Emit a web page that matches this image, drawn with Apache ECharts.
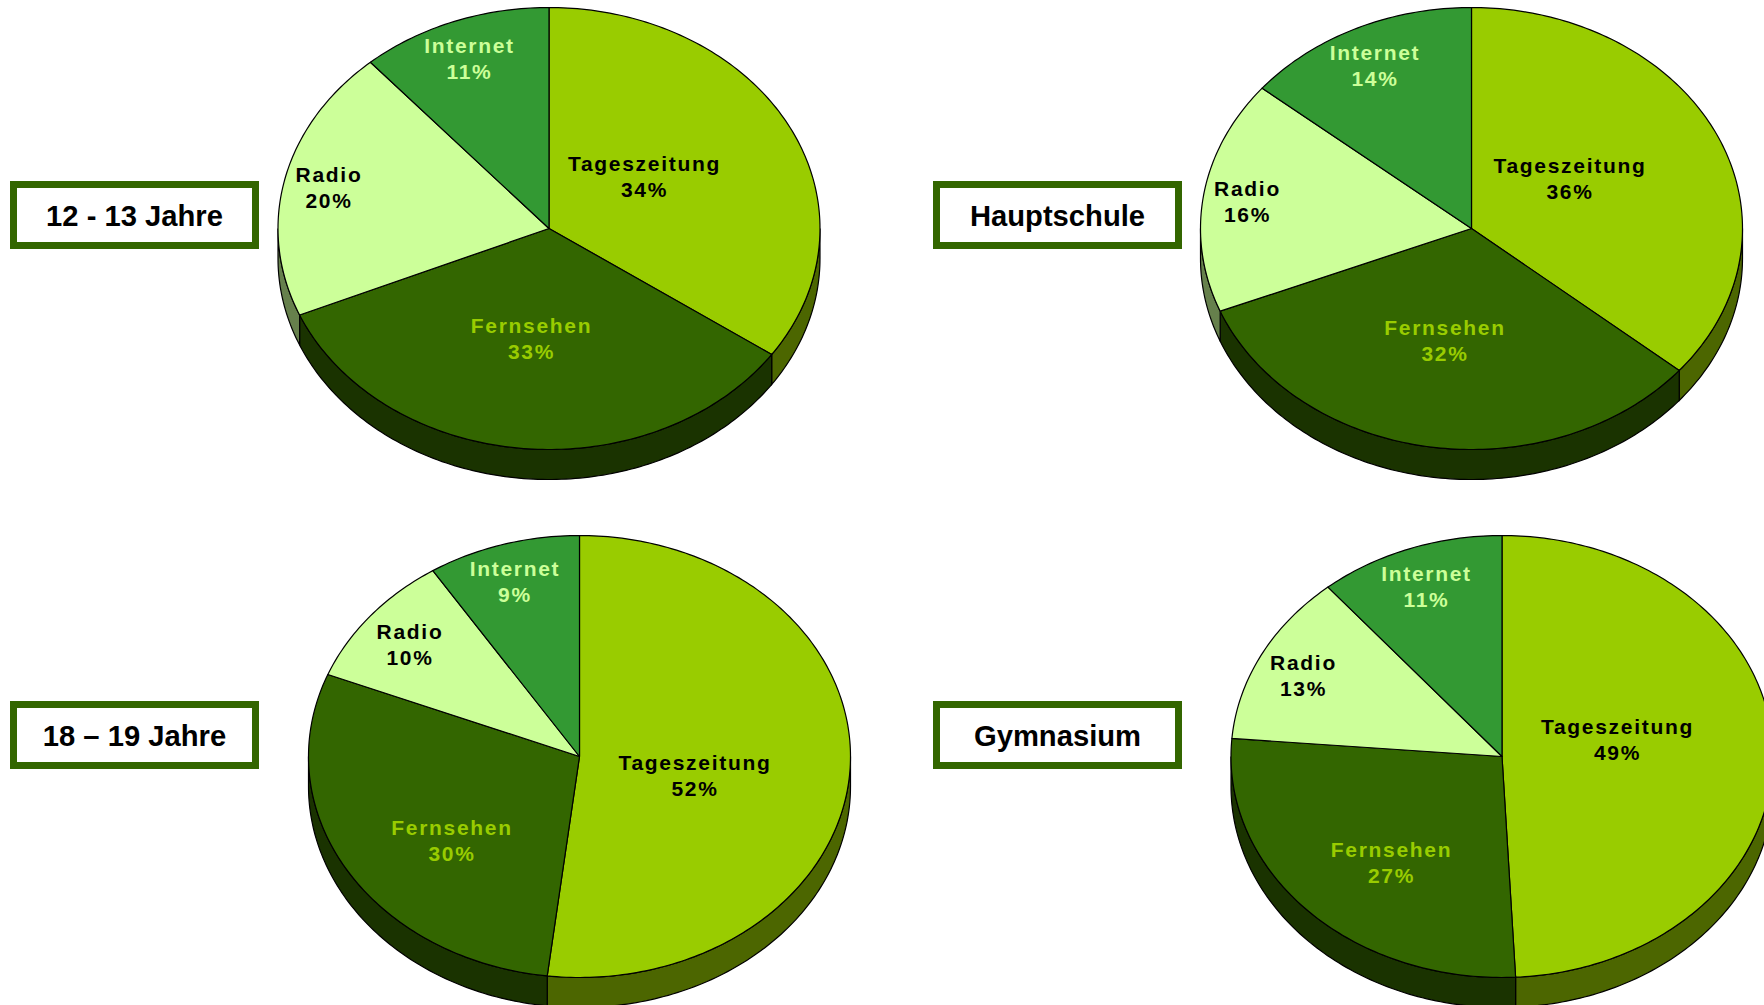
<!DOCTYPE html>
<html>
<head>
<meta charset="utf-8">
<style>
  html, body { margin: 0; padding: 0; background: #fff; }
  #chart { width: 1764px; height: 1005px; }
  /* zrender has no letter spacing option, the slice labels are spaced out in the original */
  #chart text[style*="21px"] { letter-spacing: 1.7px; }
</style>
</head>
<body>
<div id="chart"></div>
<script src="https://cdn.jsdelivr.net/npm/echarts@6/dist/echarts.min.js"></script>
<script>
const categories = ['Tageszeitung', 'Fernsehen', 'Radio', 'Internet']
const groupTitles = ['12 - 13 Jahre', 'Hauptschule', '18 – 19 Jahre', 'Gymnasium']

// slice sizes as measured from the drawn angles, the printed percentages don't add up exactly
const shares1213 = [34.65, 33.95, 19.95, 11.45]
const sharesHaupt = [36.1, 32.8, 17.05, 14.05]
const shares1819 = [51.9, 29.15, 9.85, 9.1]
const sharesGym = [49.2, 27.1, 12.6, 11.1]

const printed1213 = [34, 33, 20, 11]
const printedHaupt = [36, 32, 16, 14]
const printed1819 = [52, 30, 10, 9]
const printedGym = [49, 27, 13, 11]

const topColors = ['#99CC00', '#336600', '#CCFF99', '#339933']
const sideColors = ['#4C6600', '#1A3300', '#66804C', '#1A4D1A']
const labelColors = ['#000000', '#99CC00', '#000000', '#CCFF99']

// layout of the four pies, label offsets are from the pie centre
const RX = 271
const RY = 221
const DEPTH = 30
const LINE_H = 26
const pies = [
  { shares: shares1213, printed: printed1213, cx: 549, cy: 228.5, box: [10, 181],
    labels: [[95.5, -52], [-17.5, 109.5], [-220, -41.5], [-79.5, -170.5]] },
  { shares: sharesHaupt, printed: printedHaupt, cx: 1471.5, cy: 228.5, box: [933, 181],
    labels: [[98.5, -50], [-26.5, 112], [-224, -27.5], [-96.5, -163.5]] },
  { shares: shares1819, printed: printed1819, cx: 579.5, cy: 756.5, box: [10, 701],
    labels: [[115.5, 18.5], [-127.5, 83.5], [-169.5, -112.5], [-64.5, -175]] },
  { shares: sharesGym, printed: printedGym, cx: 1502, cy: 756.5, box: [933, 701],
    labels: [[115.5, -17.5], [-110.5, 105.5], [-198.5, -81.5], [-75.5, -170.5]] }
]

const BOX_W = 249
const BOX_H = 68
const BOX_LINE = 7

const ellipsePoint = (pie, deg, dy = 0) => {
  const t = (deg * Math.PI) / 180
  return [pie.cx + RX * Math.sin(t), pie.cy - RY * Math.cos(t) + dy]
}

const arcPoints = (pie, from, to, dy = 0) => {
  const pts = []
  const n = Math.max(1, Math.ceil(to - from))
  for (let i = 0; i <= n; i++) {
    pts.push(ellipsePoint(pie, from + ((to - from) * i) / n, dy))
  }
  return pts
}

const makeRenderItem = (pie) => {
  const total = pie.shares.reduce((a, b) => a + b, 0)
  return (params, api) => {
    const idx = params.dataIndex
    const before = pie.shares.slice(0, idx).reduce((a, b) => a + b, 0)
    const start = (before / total) * 360
    const end = start + (api.value(0) / total) * 360
    const children = []

    // the wall only shows on the front half of the disc
    const wallFrom = Math.max(start, 90)
    const wallTo = Math.min(end, 270)
    if (wallTo > wallFrom) {
      const top = arcPoints(pie, wallFrom, wallTo)
      const bottom = arcPoints(pie, wallFrom, wallTo, DEPTH).reverse()
      children.push({
        type: 'polygon',
        shape: { points: top.concat(bottom) },
        style: { fill: sideColors[idx], stroke: '#000', lineWidth: 1.2 }
      })
    }

    children.push({
      type: 'polygon',
      shape: { points: [[pie.cx, pie.cy]].concat(arcPoints(pie, start, end)) },
      style: { fill: topColors[idx], stroke: '#000', lineWidth: 1.2, lineJoin: 'round' }
    })

    children.push({
      type: 'text',
      z2: 10,
      style: {
        x: pie.cx + pie.labels[idx][0],
        y: pie.cy + pie.labels[idx][1],
        text: categories[idx] + '\n' + pie.printed[idx] + '%',
        fill: labelColors[idx],
        font: 'bold 21px "Liberation Sans", Arial, sans-serif',
        lineHeight: LINE_H,
        align: 'center',
        verticalAlign: 'middle'
      }
    })
    return { type: 'group', children }
  }
}

const titleBoxes = []
pies.forEach((pie, i) => {
  titleBoxes.push({
    type: 'rect',
    shape: {
      x: pie.box[0] + BOX_LINE / 2,
      y: pie.box[1] + BOX_LINE / 2,
      width: BOX_W - BOX_LINE,
      height: BOX_H - BOX_LINE
    },
    style: { fill: '#fff', stroke: '#336600', lineWidth: BOX_LINE }
  })
  titleBoxes.push({
    type: 'text',
    style: {
      x: pie.box[0] + BOX_W / 2,
      y: pie.box[1] + BOX_H / 2 + 1,
      text: groupTitles[i],
      fill: '#000',
      font: 'bold 29.2px "Liberation Sans", Arial, sans-serif',
      align: 'center',
      verticalAlign: 'middle'
    },
    z: 5
  })
})

const chart = echarts.init(document.getElementById('chart'), null, { renderer: 'svg' })

chart.setOption({
  animation: false,
  backgroundColor: '#fff',
  graphic: titleBoxes,
  series: pies.map((pie, i) => ({
    type: 'custom',
    name: groupTitles[i],
    coordinateSystem: 'none',
    clip: false,
    data: pie.shares.map((v, k) => ({ name: categories[k], value: [v] })),
    renderItem: makeRenderItem(pie)
  }))
})
</script>
</body>
</html>
